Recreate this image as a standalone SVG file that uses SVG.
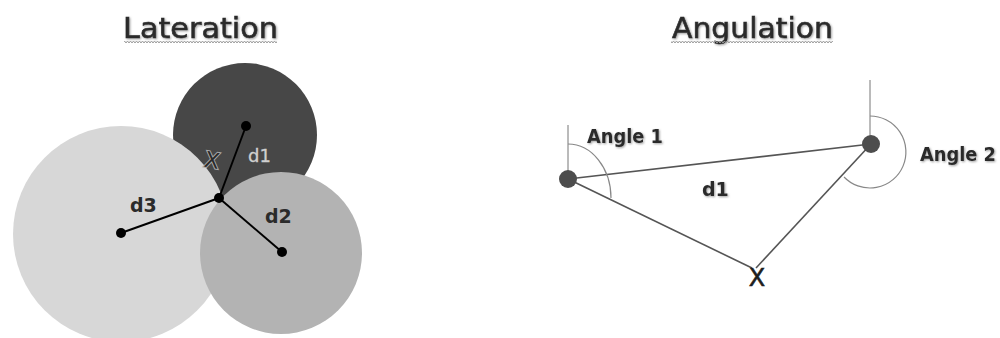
<svg xmlns="http://www.w3.org/2000/svg" width="1000" height="338" viewBox="0 0 1000 338">
<defs>
<filter id="sh" x="-10%" y="-30%" width="130%" height="170%">
<feDropShadow dx="1" dy="1" stdDeviation="0.8" flood-color="#777" flood-opacity="0.7"/>
</filter>
<pattern id="wave" width="6" height="4" patternUnits="userSpaceOnUse">
<path d="M0 3 L1.5 1 L3 3 L4.5 1 L6 3" fill="none" stroke="#9a9a9a" stroke-width="1"/>
</pattern>
</defs>
<style>
.title{font-family:"DejaVu Sans",Verdana,sans-serif;font-size:29px;fill:#2b2b2b;stroke:#2b2b2b;stroke-width:0.6;}
.lbl{font-family:"DejaVu Sans",Verdana,sans-serif;font-weight:bold;font-size:19px;fill:#2b2b2b;}
.dot{fill:#000;}
.rad{stroke:#000;stroke-width:2;fill:none;}
.edge{stroke:#555;stroke-width:1.6;fill:none;}
.ref{stroke:#777;stroke-width:1;fill:none;}
.arc{stroke:#888;stroke-width:1.2;fill:none;}
.adot{fill:#4d4d4d;}
</style>
<rect width="1000" height="338" fill="#fff"/>

<g id="title-lateration">
<text class="title" x="123" y="38" textLength="155" lengthAdjust="spacingAndGlyphs" filter="url(#sh)">Lateration</text>
<rect x="124" y="41" width="153" height="4" fill="url(#wave)"/>
</g>
<g id="title-angulation">
<text class="title" x="672" y="38" textLength="161" lengthAdjust="spacingAndGlyphs" filter="url(#sh)">Angulation</text>
<rect x="671" y="41" width="162" height="4" fill="url(#wave)"/>
</g>

<g id="lateration">
<g id="circle1"><circle cx="245" cy="135" r="72" fill="#474747"/></g>
<g id="circle3"><circle cx="121" cy="234" r="108" fill="#d7d7d7"/></g>
<g id="circle2"><circle cx="281" cy="253" r="81" fill="#b3b3b3"/></g>
<g id="lat-connectors">
<line class="rad" x1="219" y1="198" x2="246" y2="126"/>
<line class="rad" x1="219" y1="198" x2="121" y2="233"/>
<line class="rad" x1="219" y1="198" x2="282" y2="252"/>
</g>
<g id="lat-points">
<circle class="dot" cx="246" cy="126" r="5"/>
<circle class="dot" cx="219" cy="198" r="5"/>
<circle class="dot" cx="121" cy="233" r="5"/>
<circle class="dot" cx="282" cy="252" r="5"/>
</g>
<text x="212" y="168" text-anchor="middle" transform="rotate(10 212 160)" style="font-family:'DejaVu Sans',Verdana,sans-serif;font-size:22px;fill:#2a2a2a;stroke:#a8a8a8;stroke-width:2;paint-order:stroke">X</text>
<text x="248" y="162" style="font-family:'DejaVu Sans',Verdana,sans-serif;font-size:18px;fill:#d0d0d0;stroke:#d0d0d0;stroke-width:0.3">d1</text>
<text class="lbl" x="265" y="223">d2</text>
<text class="lbl" x="130" y="212">d3</text>
</g>

<g id="angulation">
<g id="ang-connectors">
<line class="edge" x1="568" y1="179" x2="871" y2="144"/>
<line class="edge" x1="568" y1="179" x2="752" y2="268"/>
<line class="edge" x1="871" y1="144" x2="756" y2="268"/>
</g>
<g id="station1">
<line class="ref" x1="568" y1="125" x2="568" y2="179"/>
<path class="arc" d="M568 144 A43 54 0 0 1 611 198"/>
<circle class="adot" cx="568" cy="179" r="9"/>
<text class="lbl" x="587" y="143" textLength="76" lengthAdjust="spacingAndGlyphs" filter="url(#sh)">Angle 1</text>
</g>
<g id="station2">
<line class="ref" x1="870" y1="80" x2="870" y2="144"/>
<path class="arc" d="M870 116 A36 36 0 1 1 844 177"/>
<circle class="adot" cx="871" cy="144" r="9"/>
<text class="lbl" x="920" y="161" textLength="76" lengthAdjust="spacingAndGlyphs" filter="url(#sh)">Angle 2</text>
</g>
<text class="lbl" x="702" y="196" filter="url(#sh)">d1</text>
<g id="target">
<text x="757" y="286" text-anchor="middle" style="font-family:'DejaVu Sans',Verdana,sans-serif;font-size:24px;fill:#1e1e1e;stroke:#1e1e1e;stroke-width:0.6">X</text>
</g>
</g>
</svg>
